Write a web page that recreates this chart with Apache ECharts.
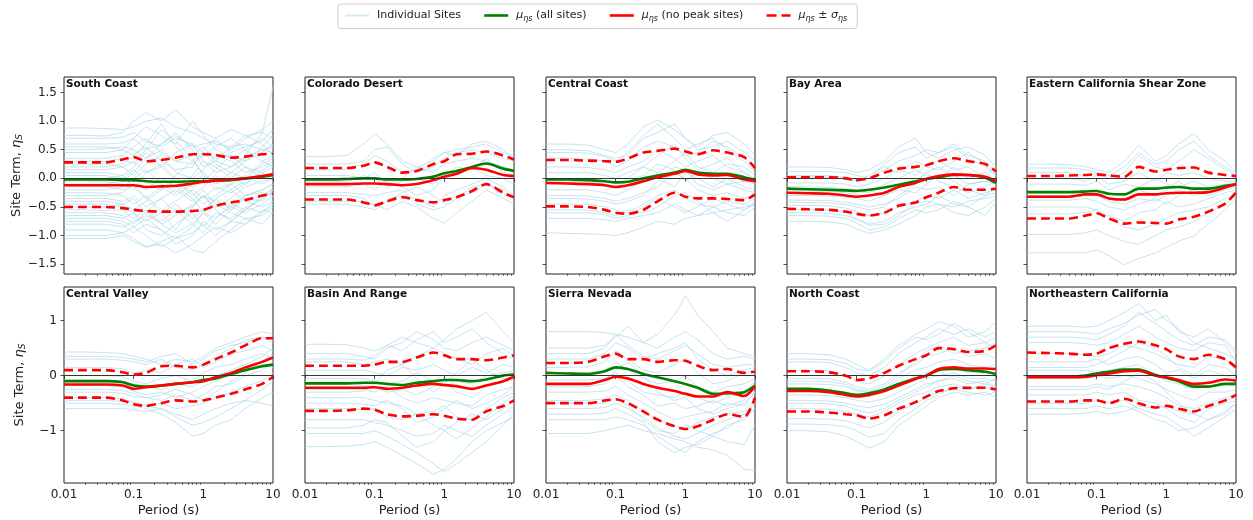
<!DOCTYPE html>
<html><head><meta charset="utf-8">
<script src="https://cdn.jsdelivr.net/npm/echarts@6/dist/echarts.min.js"></script>
<style>html,body{margin:0;padding:0;background:#fff}#c{width:1253px;height:520px}</style>
</head><body><div id="c"></div>
<script>
// ---------------- DATA ----------------
const PERIODS = [0.01, 0.02, 0.04, 0.07, 0.1, 0.15, 0.25, 0.4, 0.7, 1, 1.5, 2.5, 4, 7, 10];
const REGIONS = ['South Coast', 'Colorado Desert', 'Central Coast', 'Bay Area', 'Eastern California Shear Zone',
                 'Central Valley', 'Basin And Range', 'Sierra Nevada', 'North Coast', 'Northeastern California'];
const X_MAJOR_TICKS = [0.01, 0.1, 1, 10];
const X_MINOR_TICKS = [0.02,0.03,0.04,0.05,0.06,0.07,0.08,0.09,0.2,0.3,0.4,0.5,0.6,0.7,0.8,0.9,2,3,4,5,6,7,8,9];
const Y_TICKS_TOP = [-1.5, -1, -0.5, 0, 0.5, 1, 1.5];
const Y_TICKS_BOTTOM = [-1, 0, 1];

const SITES_SOUTH_COAST = [
 [0.88,0.88,0.87,0.85,0.9,1.0,1.05,0.9,0.8,0.7,0.6,0.55,0.6,0.5,0.45],
 [0.75,0.75,0.74,0.8,1.0,1.15,1.0,1.2,0.9,0.8,0.7,0.85,0.75,0.8,0.7],
 [0.6,0.6,0.6,0.62,0.7,0.5,0.6,0.75,0.55,0.6,0.65,0.5,0.7,0.85,1.0],
 [0.5,0.5,0.52,0.55,0.5,0.35,0.5,0.3,0.4,0.55,0.3,0.2,0.4,0.8,1.6],
 [0.35,0.35,0.35,0.4,0.55,0.7,0.45,0.3,0.25,0.4,0.55,0.7,0.5,0.3,0.2],
 [0.25,0.25,0.25,0.2,0.3,0.1,0.2,0.45,0.6,0.3,0.1,0.2,0.35,0.5,0.55],
 [0.15,0.15,0.15,0.2,0.05,0.25,0.4,0.1,0.0,0.15,0.4,0.3,0.1,0.2,0.3],
 [0.05,0.05,0.05,0.0,0.15,-0.05,-0.2,0.05,0.3,0.1,-0.1,0.0,0.2,0.1,-0.05],
 [-0.05,-0.05,-0.06,-0.1,-0.2,0.1,0.25,0.0,-0.15,-0.05,0.15,0.4,0.2,0.0,0.1],
 [-0.15,-0.15,-0.15,-0.2,-0.1,-0.35,-0.15,-0.3,-0.1,0.05,-0.2,-0.1,-0.3,-0.2,-0.1],
 [-0.25,-0.25,-0.26,-0.3,-0.45,-0.3,-0.55,-0.4,-0.2,-0.35,-0.15,-0.25,-0.1,0.1,0.2],
 [-0.35,-0.35,-0.35,-0.4,-0.3,-0.5,-0.35,-0.6,-0.5,-0.3,-0.4,-0.5,-0.3,-0.25,-0.3],
 [-0.45,-0.45,-0.45,-0.5,-0.6,-0.75,-0.6,-0.45,-0.7,-0.55,-0.35,-0.2,-0.4,-0.5,-0.4],
 [-0.55,-0.55,-0.56,-0.55,-0.7,-0.55,-0.8,-0.95,-0.8,-0.6,-0.7,-0.45,-0.55,-0.3,-0.2],
 [-0.65,-0.65,-0.65,-0.7,-0.6,-0.9,-1.0,-0.8,-0.6,-0.85,-0.6,-0.7,-0.5,-0.6,-0.45],
 [-0.75,-0.75,-0.75,-0.8,-0.95,-0.8,-0.9,-1.15,-1.0,-0.75,-0.9,-0.75,-0.8,-0.55,-0.6],
 [-0.9,-0.9,-0.9,-0.95,-1.05,-1.2,-1.1,-1.0,-1.25,-1.3,-1.1,-0.9,-0.7,-0.65,-0.5],
 [-1.05,-1.05,-1.05,-1.0,-1.1,-1.2,-1.15,-1.3,-1.15,-1.0,-0.85,-0.95,-0.8,-0.6,-0.4],
 [0.45,0.45,0.45,0.5,0.7,0.9,0.75,0.6,1.0,0.75,0.5,0.35,0.5,0.7,0.55],
 [-0.1,-0.1,-0.1,-0.05,0.1,0.35,0.6,0.8,0.5,0.2,0.3,0.55,0.75,0.6,0.4],
 [0.1,0.1,0.1,0.05,-0.15,-0.35,-0.6,-0.9,-0.5,-0.3,-0.5,-0.35,-0.15,-0.05,0.0],
 [-0.3,-0.3,-0.3,-0.25,-0.1,-0.2,0.0,-0.15,-0.35,-0.6,-0.8,-0.55,-0.35,-0.4,-0.2],
 [0.3,0.3,0.3,0.35,0.25,0.5,0.85,0.65,0.35,0.05,-0.1,0.1,0.0,0.3,0.4],
 [-0.6,-0.6,-0.6,-0.65,-0.8,-0.6,-0.35,-0.2,-0.4,-0.2,-0.45,-0.6,-0.7,-0.8,-0.6],
 [0.7,0.7,0.7,0.72,0.8,0.65,0.55,0.7,0.6,0.45,0.35,0.4,0.3,0.45,0.6],
 [0.2,0.2,0.2,0.25,0.4,0.55,0.3,0.15,0.2,0.5,0.7,0.45,0.55,0.65,0.85],
 [-0.2,-0.2,-0.2,-0.15,0.0,0.15,-0.1,-0.25,0.05,0.3,0.2,0.0,-0.1,0.15,0.25],
 [-0.4,-0.4,-0.4,-0.45,-0.55,-0.4,-0.2,-0.05,-0.25,-0.45,-0.3,-0.1,0.05,-0.1,0.0],
 [-0.5,-0.5,-0.5,-0.45,-0.35,-0.6,-0.8,-0.65,-0.45,-0.3,-0.55,-0.75,-0.55,-0.35,-0.25],
 [-0.8,-0.8,-0.8,-0.85,-0.75,-0.65,-0.75,-0.55,-0.8,-0.95,-0.7,-0.5,-0.6,-0.45,-0.3],
 [0.0,0.0,0.0,0.05,0.2,0.45,0.2,-0.05,-0.3,-0.15,0.05,-0.2,-0.05,0.25,0.35],
 [-0.7,-0.7,-0.7,-0.75,-0.85,-1.0,-1.2,-1.05,-0.85,-0.6,-0.35,-0.55,-0.3,-0.2,-0.1],
 [0.55,0.55,0.55,0.5,0.4,0.6,0.95,0.55,0.3,0.45,0.25,0.1,0.3,0.55,0.75],
 [-1.0,-1.0,-1.0,-0.95,-0.85,-0.7,-0.9,-1.05,-0.95,-0.8,-1.0,-0.75,-0.55,-0.35,-0.15]
];
const SITES_COLORADO_DESERT = [
 [0.38,0.38,0.4,0.6,0.78,0.6,0.3,0.2,0.3,0.45,0.5,0.55,0.6,0.45,0.4],
 [0.15,0.15,0.16,0.25,0.4,0.3,0.1,0.15,0.35,0.45,0.4,0.6,0.65,0.5,0.35],
 [0.05,0.05,0.05,0.0,0.1,-0.1,0.0,0.2,0.1,0.25,0.3,0.35,0.3,0.2,0.15],
 [-0.05,-0.05,-0.06,0.05,0.0,-0.15,-0.05,0.0,-0.1,0.05,0.2,0.15,0.35,0.1,0.05],
 [-0.15,-0.15,-0.15,-0.1,-0.2,-0.05,-0.15,-0.3,-0.2,0.05,0.1,0.2,0.05,0.0,-0.1],
 [-0.3,-0.3,-0.3,-0.35,-0.5,-0.4,-0.3,-0.35,-0.5,-0.3,-0.2,-0.1,0.0,-0.15,-0.3],
 [-0.4,-0.4,-0.4,-0.4,-0.45,-0.55,-0.4,-0.5,-0.7,-0.78,-0.6,-0.4,-0.2,-0.35,-0.45],
 [-0.45,-0.45,-0.45,-0.5,-0.55,-0.4,-0.25,-0.15,-0.3,-0.45,-0.3,-0.25,-0.1,-0.2,-0.35],
 [0.25,0.25,0.25,0.3,0.5,0.55,0.25,0.1,0.2,0.35,0.45,0.5,0.45,0.35,0.3],
 [-0.25,-0.25,-0.25,-0.28,-0.3,-0.25,-0.2,-0.45,-0.55,-0.5,-0.35,-0.15,-0.1,-0.25,-0.4]
];
const SITES_CENTRAL_COAST = [
 [0.6,0.6,0.58,0.5,0.45,0.6,0.9,1.02,0.85,0.7,0.55,0.75,0.8,0.6,0.4],
 [0.5,0.5,0.48,0.4,0.35,0.4,0.7,0.8,0.95,0.7,0.5,0.55,0.65,0.45,0.3],
 [0.35,0.35,0.34,0.3,0.2,0.3,0.55,0.65,0.55,0.4,0.45,0.65,0.55,0.35,0.2],
 [0.2,0.2,0.19,0.15,0.1,0.2,0.3,0.5,0.35,0.2,0.3,0.4,0.2,0.1,0.0],
 [0.1,0.1,0.1,0.05,0.0,0.1,0.2,0.1,0.3,0.45,0.2,0.1,0.25,0.2,0.05],
 [-0.05,-0.05,-0.06,-0.1,-0.15,-0.05,0.05,0.25,0.15,-0.05,0.1,0.0,-0.1,-0.05,-0.1],
 [-0.2,-0.2,-0.2,-0.25,-0.3,-0.2,-0.05,0.0,-0.15,0.1,0.0,-0.15,0.0,-0.15,-0.2],
 [-0.3,-0.3,-0.31,-0.35,-0.4,-0.35,-0.25,-0.15,0.1,0.0,-0.2,-0.3,-0.25,-0.35,-0.3],
 [-0.45,-0.45,-0.45,-0.5,-0.55,-0.6,-0.45,-0.3,-0.2,-0.35,-0.45,-0.5,-0.4,-0.45,-0.35],
 [-0.55,-0.55,-0.55,-0.6,-0.65,-0.55,-0.6,-0.5,-0.3,-0.25,-0.4,-0.6,-0.75,-0.55,-0.45],
 [-0.7,-0.7,-0.7,-0.72,-0.75,-0.7,-0.65,-0.6,-0.45,-0.55,-0.65,-0.5,-0.6,-0.65,-0.5],
 [-0.95,-0.96,-0.97,-0.98,-1.0,-0.95,-0.85,-0.75,-0.8,-0.7,-0.65,-0.6,-0.55,-0.5,-0.45],
 [0.45,0.45,0.44,0.38,0.3,0.45,0.75,0.95,0.7,0.5,0.6,0.7,0.5,0.3,0.1],
 [0.0,0.0,0.0,-0.05,-0.1,0.0,0.2,0.4,0.6,0.35,0.15,0.25,0.35,0.1,-0.05],
 [-0.35,-0.35,-0.36,-0.4,-0.45,-0.4,-0.3,-0.05,0.2,0.15,-0.1,-0.2,-0.1,-0.2,-0.25],
 [-0.6,-0.6,-0.6,-0.63,-0.7,-0.65,-0.5,-0.35,-0.5,-0.6,-0.5,-0.35,-0.45,-0.55,-0.4]
];
const SITES_BAY_AREA = [
 [0.2,0.2,0.19,0.15,0.1,0.15,0.3,0.55,0.7,0.45,0.35,0.5,0.55,0.4,0.2],
 [0.12,0.12,0.12,0.1,0.05,0.0,0.15,0.3,0.4,0.5,0.45,0.6,0.4,0.3,0.1],
 [0.02,0.02,0.02,0.0,-0.05,0.05,0.2,0.1,0.3,0.2,0.15,0.3,0.45,0.25,0.05],
 [-0.08,-0.08,-0.08,-0.1,-0.15,-0.1,0.0,0.15,0.05,0.25,0.3,0.15,0.2,0.0,-0.1],
 [-0.15,-0.15,-0.16,-0.18,-0.2,-0.25,-0.1,0.0,0.15,0.05,0.0,0.2,0.0,0.1,-0.05],
 [-0.22,-0.22,-0.23,-0.25,-0.28,-0.2,-0.3,-0.15,-0.05,0.1,0.2,0.05,-0.1,-0.05,0.0],
 [-0.3,-0.3,-0.31,-0.33,-0.35,-0.4,-0.3,-0.2,-0.25,-0.1,0.05,-0.05,-0.2,-0.3,-0.15],
 [-0.38,-0.38,-0.39,-0.42,-0.45,-0.5,-0.45,-0.35,-0.15,-0.2,-0.15,-0.3,-0.1,-0.05,-0.1],
 [-0.47,-0.47,-0.48,-0.52,-0.58,-0.65,-0.6,-0.5,-0.4,-0.3,-0.35,-0.2,-0.35,-0.25,-0.2],
 [-0.55,-0.55,-0.56,-0.6,-0.7,-0.8,-0.75,-0.6,-0.5,-0.45,-0.3,-0.45,-0.5,-0.3,-0.25],
 [-0.65,-0.65,-0.66,-0.7,-0.78,-0.9,-0.85,-0.7,-0.55,-0.6,-0.55,-0.4,-0.5,-0.65,-0.4],
 [-0.75,-0.75,-0.76,-0.8,-0.88,-0.96,-0.9,-0.8,-0.65,-0.5,-0.45,-0.5,-0.4,-0.35,-0.3],
 [0.05,0.05,0.05,0.02,-0.02,0.0,0.25,0.45,0.55,0.35,0.45,0.55,0.35,0.2,0.05],
 [-0.42,-0.42,-0.43,-0.46,-0.5,-0.55,-0.5,-0.3,-0.1,0.1,-0.05,-0.15,-0.25,-0.15,-0.05],
 [-0.6,-0.6,-0.61,-0.65,-0.72,-0.82,-0.8,-0.65,-0.45,-0.4,-0.45,-0.6,-0.65,-0.5,-0.35]
];
const SITES_ECSZ = [
 [0.25,0.25,0.24,0.2,0.15,0.1,0.3,0.58,0.3,0.4,0.6,0.78,0.5,0.3,0.1],
 [0.1,0.1,0.1,0.05,0.08,0.0,0.1,0.4,0.2,0.15,0.3,0.5,0.35,0.15,0.05],
 [0.0,0.0,0.0,-0.05,0.05,-0.1,-0.05,0.1,-0.05,0.1,0.05,0.1,0.0,-0.05,-0.05],
 [-0.1,-0.1,-0.1,-0.12,-0.05,-0.2,-0.1,-0.15,0.0,-0.1,-0.15,-0.05,-0.15,-0.1,-0.1],
 [-0.25,-0.25,-0.25,-0.22,-0.2,-0.35,-0.4,-0.2,-0.3,-0.2,-0.05,-0.25,-0.2,-0.15,-0.12],
 [-0.38,-0.38,-0.38,-0.35,-0.4,-0.5,-0.55,-0.45,-0.35,-0.45,-0.3,-0.2,-0.3,-0.2,-0.15],
 [-0.5,-0.5,-0.5,-0.5,-0.55,-0.65,-0.75,-0.6,-0.55,-0.4,-0.5,-0.45,-0.35,-0.25,-0.2],
 [-0.62,-0.62,-0.62,-0.6,-0.55,-0.7,-0.85,-0.9,-0.8,-0.7,-0.6,-0.55,-0.5,-0.35,-0.25],
 [-0.98,-0.98,-0.98,-0.95,-0.9,-1.0,-1.1,-1.15,-1.0,-0.9,-0.85,-0.75,-0.6,-0.45,-0.3],
 [-1.3,-1.3,-1.3,-1.3,-1.25,-1.35,-1.51,-1.4,-1.3,-1.2,-1.1,-1.0,-0.8,-0.55,-0.35],
 [0.18,0.18,0.18,0.15,0.1,0.05,0.2,0.45,0.25,0.3,0.5,0.65,0.4,0.2,0.08],
 [-0.3,-0.3,-0.3,-0.3,-0.3,-0.4,-0.45,-0.35,-0.4,-0.3,-0.2,-0.3,-0.25,-0.15,-0.1]
];
const SITES_CENTRAL_VALLEY = [
 [0.43,0.43,0.42,0.4,0.35,0.3,0.2,0.3,0.25,0.35,0.5,0.6,0.7,0.8,0.75],
 [0.3,0.3,0.3,0.28,0.25,0.2,0.3,0.15,0.1,0.2,0.35,0.5,0.65,0.7,0.6],
 [0.15,0.15,0.15,0.12,0.05,0.1,0.05,0.2,0.3,0.15,0.25,0.4,0.45,0.55,0.45],
 [0.0,0.0,0.0,-0.02,-0.1,-0.15,-0.05,0.0,-0.1,0.05,0.15,0.2,0.3,0.4,0.3],
 [-0.08,-0.08,-0.08,-0.1,-0.15,-0.2,-0.25,-0.15,-0.2,-0.1,0.0,0.1,0.2,0.35,0.5],
 [-0.18,-0.18,-0.18,-0.2,-0.28,-0.35,-0.3,-0.4,-0.3,-0.2,-0.1,0.0,0.1,0.2,0.15],
 [-0.3,-0.3,-0.3,-0.32,-0.38,-0.4,-0.45,-0.35,-0.45,-0.35,-0.2,-0.15,0.0,0.1,0.25],
 [-0.4,-0.4,-0.4,-0.42,-0.48,-0.55,-0.5,-0.6,-0.55,-0.5,-0.4,-0.3,-0.2,-0.1,0.05],
 [-0.5,-0.5,-0.5,-0.52,-0.55,-0.6,-0.7,-0.85,-1.1,-1.05,-0.9,-0.8,-0.6,-0.4,-0.3],
 [-0.6,-0.6,-0.6,-0.6,-0.62,-0.65,-0.6,-0.7,-0.8,-0.7,-0.6,-0.5,-0.45,-0.5,-0.55],
 [0.35,0.35,0.35,0.33,0.3,0.25,0.35,0.4,0.2,0.3,0.45,0.55,0.6,0.7,0.65],
 [-0.25,-0.25,-0.25,-0.27,-0.32,-0.4,-0.35,-0.25,-0.35,-0.45,-0.3,-0.1,0.05,0.25,0.4],
 [-0.45,-0.45,-0.45,-0.47,-0.5,-0.55,-0.6,-0.75,-0.9,-0.85,-0.75,-0.6,-0.45,-0.25,-0.1]
];
const SITES_BASIN_RANGE = [
 [0.57,0.57,0.56,0.5,0.45,0.55,0.7,0.6,0.5,0.65,0.85,1.0,1.15,0.8,0.6],
 [0.4,0.4,0.4,0.35,0.3,0.5,0.6,0.8,0.65,0.5,0.45,0.6,0.7,0.55,0.45],
 [0.25,0.25,0.25,0.2,0.25,0.3,0.2,0.35,0.5,0.4,0.3,0.2,0.4,0.5,0.35],
 [0.1,0.1,0.1,0.1,0.05,0.0,0.15,0.1,0.2,0.1,0.0,0.15,0.05,0.2,0.15],
 [-0.05,-0.05,-0.05,-0.05,-0.1,-0.15,-0.1,0.05,-0.1,-0.2,-0.1,-0.15,0.0,0.05,0.1],
 [-0.15,-0.15,-0.15,-0.18,-0.2,-0.3,-0.25,-0.35,-0.2,-0.1,-0.3,-0.4,-0.2,-0.1,0.0],
 [-0.25,-0.25,-0.25,-0.25,-0.3,-0.2,-0.4,-0.5,-0.4,-0.45,-0.5,-0.55,-0.35,-0.25,-0.2],
 [-0.4,-0.4,-0.4,-0.4,-0.45,-0.5,-0.55,-0.7,-0.65,-0.55,-0.75,-0.8,-0.6,-0.4,-0.3],
 [-0.6,-0.6,-0.6,-0.62,-0.6,-0.75,-0.8,-0.7,-0.9,-1.0,-0.85,-0.7,-0.8,-0.6,-0.45],
 [-0.8,-0.8,-0.8,-0.8,-0.85,-0.9,-1.0,-1.1,-1.05,-0.9,-1.0,-1.1,-0.9,-0.7,-0.55],
 [-1.05,-1.05,-1.05,-1.05,-1.0,-1.1,-1.25,-1.4,-1.6,-1.75,-1.6,-1.4,-1.2,-0.9,-0.7],
 [-1.29,-1.29,-1.28,-1.25,-1.2,-1.3,-1.45,-1.6,-1.79,-1.7,-1.5,-1.2,-1.0,-0.85,-0.75],
 [0.3,0.3,0.3,0.28,0.35,0.55,0.45,0.65,0.8,0.6,0.7,0.85,0.6,0.4,0.3],
 [-0.3,-0.3,-0.3,-0.28,-0.15,0.1,0.2,-0.05,-0.3,-0.15,0.05,0.3,0.1,-0.05,-0.1],
 [-0.5,-0.5,-0.5,-0.52,-0.55,-0.45,-0.6,-0.85,-0.75,-0.6,-0.45,-0.6,-0.5,-0.35,-0.2],
 [-0.95,-0.95,-0.95,-0.9,-0.8,-0.85,-1.1,-1.3,-1.2,-1.0,-1.15,-0.95,-0.75,-0.5,-0.35]
];
const SITES_SIERRA_NEVADA = [
 [0.8,0.8,0.8,0.78,0.75,0.7,0.6,0.75,1.1,1.45,1.1,0.8,0.5,0.4,0.35],
 [0.5,0.5,0.5,0.55,0.7,0.9,0.6,0.5,0.7,0.8,0.65,0.4,0.3,0.35,0.3],
 [0.3,0.3,0.3,0.4,0.6,0.5,0.3,0.4,0.5,0.6,0.3,0.1,0.0,0.1,0.15],
 [0.15,0.15,0.16,0.25,0.45,0.3,0.1,0.05,0.2,0.3,0.05,-0.15,-0.1,0.05,0.1],
 [0.05,0.05,0.05,0.1,0.25,0.1,-0.05,-0.15,-0.1,0.0,-0.2,-0.3,-0.2,-0.15,-0.05],
 [-0.08,-0.08,-0.08,-0.05,0.05,-0.1,-0.3,-0.35,-0.4,-0.3,-0.4,-0.5,-0.4,-0.3,-0.1],
 [-0.2,-0.2,-0.2,-0.15,0.0,-0.2,-0.35,-0.55,-0.5,-0.6,-0.55,-0.45,-0.55,-0.45,-0.2],
 [-0.3,-0.3,-0.3,-0.28,-0.2,-0.35,-0.5,-0.65,-0.8,-0.75,-0.7,-0.65,-0.5,-0.55,-0.3],
 [-0.45,-0.45,-0.45,-0.42,-0.35,-0.45,-0.65,-0.8,-0.9,-1.0,-0.85,-0.75,-0.7,-0.65,-0.45],
 [-0.6,-0.6,-0.6,-0.58,-0.5,-0.6,-0.75,-0.95,-1.1,-1.15,-1.05,-0.9,-0.8,-0.7,-0.5],
 [-0.8,-0.8,-0.8,-0.8,-0.75,-0.8,-0.9,-1.1,-1.3,-1.4,-1.2,-1.05,-0.95,-0.75,-0.6],
 [-1.05,-1.05,-1.05,-1.0,-0.95,-0.9,-1.0,-1.05,-1.15,-1.2,-1.3,-1.35,-1.45,-1.7,-1.72],
 [0.4,0.4,0.4,0.5,0.75,0.55,0.35,0.3,0.45,0.55,0.4,0.2,0.15,0.2,0.2],
 [-0.15,-0.15,-0.15,-0.1,0.1,0.25,0.0,-0.3,-0.45,-0.4,-0.6,-0.7,-0.6,-0.5,-0.3],
 [-0.5,-0.5,-0.5,-0.5,-0.4,-0.55,-0.8,-1.0,-1.05,-0.9,-1.0,-1.1,-0.9,-0.8,-0.6],
 [-0.7,-0.7,-0.7,-0.68,-0.6,-0.7,-0.85,-1.2,-1.4,-1.3,-1.25,-1.1,-1.2,-1.25,-0.9]
];
const SITES_NORTH_COAST = [
 [0.4,0.4,0.38,0.3,0.2,0.1,0.3,0.55,0.75,0.85,0.98,0.9,0.7,0.8,0.98],
 [0.25,0.25,0.24,0.15,0.05,0.0,0.15,0.4,0.6,0.7,0.85,0.75,0.85,0.7,0.8],
 [0.1,0.1,0.09,0.0,-0.1,-0.15,0.0,0.2,0.4,0.5,0.6,0.7,0.55,0.6,0.5],
 [-0.05,-0.05,-0.06,-0.12,-0.2,-0.25,-0.15,0.05,0.2,0.35,0.4,0.5,0.35,0.4,0.3],
 [-0.15,-0.15,-0.16,-0.2,-0.28,-0.3,-0.25,-0.05,0.1,0.15,0.25,0.3,0.2,0.15,0.2],
 [-0.25,-0.25,-0.26,-0.3,-0.35,-0.38,-0.3,-0.2,0.0,0.05,0.1,0.15,0.05,0.1,0.0],
 [-0.35,-0.35,-0.36,-0.4,-0.45,-0.48,-0.42,-0.3,-0.15,-0.05,0.0,0.05,-0.05,-0.05,-0.1],
 [-0.45,-0.45,-0.46,-0.5,-0.55,-0.58,-0.52,-0.4,-0.25,-0.15,-0.1,-0.05,-0.15,-0.1,-0.2],
 [-0.6,-0.6,-0.61,-0.65,-0.7,-0.75,-0.65,-0.5,-0.35,-0.3,-0.2,-0.15,-0.25,-0.2,-0.3],
 [-0.78,-0.78,-0.79,-0.82,-0.88,-0.95,-0.85,-0.65,-0.5,-0.4,-0.3,-0.25,-0.3,-0.35,-0.3],
 [-1.0,-1.0,-1.02,-1.1,-1.2,-1.32,-1.2,-0.9,-0.7,-0.55,-0.4,-0.3,-0.35,-0.3,-0.4],
 [0.3,0.3,0.29,0.22,0.12,0.08,0.25,0.5,0.7,0.65,0.75,0.95,0.8,0.6,0.7],
 [-0.1,-0.1,-0.11,-0.16,-0.25,-0.28,-0.2,0.0,0.25,0.45,0.55,0.4,0.45,0.5,0.6],
 [-0.5,-0.5,-0.51,-0.55,-0.62,-0.68,-0.6,-0.45,-0.3,-0.2,-0.1,0.0,-0.1,-0.15,-0.05],
 [-0.88,-0.88,-0.89,-0.93,-1.0,-1.12,-1.05,-0.8,-0.6,-0.45,-0.35,-0.2,-0.25,-0.15,-0.2]
];
const SITES_NORTHEASTERN = [
 [0.9,0.9,0.9,0.88,0.9,1.0,1.15,1.31,1.0,1.1,0.8,0.7,0.85,0.6,0.4],
 [0.8,0.8,0.8,0.78,0.75,0.85,0.95,1.1,1.2,1.0,0.85,0.6,0.5,0.4,0.3],
 [0.6,0.6,0.6,0.58,0.55,0.6,0.75,0.9,0.7,0.6,0.5,0.45,0.6,0.55,0.25],
 [0.4,0.4,0.4,0.38,0.35,0.4,0.55,0.5,0.4,0.3,0.2,0.15,0.35,0.3,0.1],
 [0.25,0.25,0.25,0.25,0.3,0.2,0.3,0.35,0.2,0.05,0.1,-0.05,0.1,0.0,-0.05],
 [0.1,0.1,0.1,0.1,0.05,0.1,0.15,0.2,0.0,-0.1,-0.15,-0.25,-0.1,-0.15,-0.2],
 [-0.05,-0.05,-0.05,-0.05,0.0,-0.05,0.0,-0.05,-0.15,-0.25,-0.35,-0.45,-0.3,-0.3,-0.25],
 [-0.2,-0.2,-0.2,-0.2,-0.15,-0.2,-0.15,-0.2,-0.3,-0.4,-0.55,-0.6,-0.5,-0.4,-0.35],
 [-0.35,-0.35,-0.35,-0.35,-0.3,-0.35,-0.3,-0.45,-0.5,-0.6,-0.75,-0.85,-0.6,-0.5,-0.45],
 [-0.5,-0.5,-0.5,-0.5,-0.45,-0.5,-0.45,-0.6,-0.7,-0.75,-0.9,-1.1,-0.95,-0.75,-0.6],
 [-0.7,-0.7,-0.7,-0.68,-0.65,-0.7,-0.65,-0.55,-0.6,-0.55,-0.65,-0.7,-0.8,-0.7,-0.5],
 [0.7,0.7,0.7,0.68,0.65,0.75,0.9,1.15,0.95,0.8,0.65,0.55,0.7,0.65,0.45],
 [0.15,0.15,0.15,0.15,0.2,0.3,0.45,0.6,0.5,0.35,0.15,0.0,0.2,0.15,0.0],
 [-0.25,-0.25,-0.25,-0.25,-0.2,-0.25,-0.1,0.05,-0.1,-0.3,-0.5,-0.7,-0.55,-0.45,-0.4],
 [-0.6,-0.6,-0.6,-0.6,-0.55,-0.6,-0.55,-0.65,-0.8,-0.85,-1.0,-0.95,-0.8,-0.65,-0.5]
];

// mean (all sites), one row per region
const MU_ALL = [
 [-0.02,-0.02,-0.02,-0.03,-0.03,-0.05,-0.06,-0.06,-0.05,-0.05,-0.04,-0.03,0.0,0.03,0.06],
 [-0.02,-0.02,-0.01,0.0,0.0,-0.02,-0.02,-0.01,0.03,0.09,0.13,0.2,0.26,0.17,0.13],
 [-0.02,-0.02,-0.03,-0.05,-0.07,-0.06,0.0,0.05,0.1,0.15,0.1,0.08,0.08,0.02,-0.03],
 [-0.18,-0.19,-0.2,-0.21,-0.22,-0.2,-0.16,-0.11,-0.05,-0.01,0.02,0.06,0.06,0.01,-0.08],
 [-0.24,-0.24,-0.24,-0.23,-0.22,-0.27,-0.28,-0.18,-0.18,-0.16,-0.15,-0.18,-0.18,-0.13,-0.11],
 [-0.1,-0.1,-0.1,-0.12,-0.18,-0.2,-0.18,-0.15,-0.12,-0.08,-0.05,0.03,0.1,0.17,0.2],
 [-0.14,-0.14,-0.14,-0.13,-0.13,-0.15,-0.17,-0.13,-0.1,-0.08,-0.08,-0.1,-0.07,0.0,0.02],
 [0.05,0.04,0.03,0.08,0.15,0.12,0.03,-0.03,-0.1,-0.15,-0.22,-0.33,-0.32,-0.3,-0.18],
 [-0.24,-0.24,-0.27,-0.32,-0.35,-0.32,-0.25,-0.15,-0.05,0.0,0.1,0.12,0.1,0.07,0.03],
 [-0.02,-0.02,-0.02,0.0,0.04,0.07,0.11,0.11,0.01,-0.04,-0.1,-0.2,-0.2,-0.15,-0.15]
];
// mean (no peak sites)
const MU_NOPEAK = [
 [-0.12,-0.12,-0.12,-0.12,-0.12,-0.15,-0.14,-0.13,-0.09,-0.06,-0.04,-0.02,0.0,0.04,0.07],
 [-0.1,-0.1,-0.1,-0.09,-0.09,-0.1,-0.12,-0.1,-0.03,0.03,0.08,0.18,0.15,0.06,0.04],
 [-0.08,-0.09,-0.1,-0.12,-0.15,-0.12,-0.05,0.02,0.08,0.13,0.07,0.05,0.06,-0.02,-0.05],
 [-0.25,-0.26,-0.27,-0.3,-0.32,-0.3,-0.25,-0.15,-0.08,-0.01,0.04,0.07,0.06,0.03,-0.05],
 [-0.32,-0.32,-0.32,-0.28,-0.28,-0.35,-0.37,-0.28,-0.28,-0.26,-0.25,-0.25,-0.24,-0.16,-0.1],
 [-0.16,-0.16,-0.16,-0.18,-0.24,-0.21,-0.18,-0.15,-0.12,-0.1,-0.03,0.05,0.15,0.25,0.33],
 [-0.22,-0.22,-0.22,-0.22,-0.21,-0.24,-0.22,-0.18,-0.15,-0.17,-0.19,-0.24,-0.18,-0.1,-0.02],
 [-0.15,-0.15,-0.15,-0.08,-0.02,-0.05,-0.15,-0.22,-0.28,-0.33,-0.38,-0.38,-0.3,-0.37,-0.2],
 [-0.28,-0.28,-0.3,-0.35,-0.38,-0.35,-0.28,-0.18,-0.06,0.0,0.12,0.15,0.13,0.13,0.12],
 [-0.03,-0.03,-0.03,-0.02,0.01,0.04,0.08,0.09,0.0,-0.03,-0.08,-0.15,-0.13,-0.07,-0.09]
];
// mean + sigma
const MU_PLUS_SIGMA = [
 [0.28,0.28,0.28,0.33,0.37,0.3,0.32,0.36,0.42,0.42,0.41,0.36,0.38,0.42,0.43],
 [0.18,0.18,0.18,0.22,0.28,0.2,0.1,0.13,0.25,0.3,0.42,0.43,0.47,0.4,0.33],
 [0.32,0.32,0.31,0.3,0.29,0.35,0.45,0.48,0.52,0.47,0.42,0.49,0.45,0.37,0.18],
 [0.02,0.02,0.02,0.0,-0.03,0.0,0.1,0.17,0.2,0.23,0.3,0.35,0.3,0.25,0.12],
 [0.04,0.04,0.05,0.06,0.07,0.05,0.03,0.2,0.12,0.15,0.18,0.19,0.1,0.06,0.04],
 [0.1,0.1,0.1,0.06,0.02,0.05,0.17,0.18,0.15,0.2,0.3,0.42,0.55,0.68,0.68],
 [0.18,0.18,0.18,0.18,0.2,0.25,0.25,0.33,0.42,0.37,0.3,0.3,0.28,0.33,0.37],
 [0.23,0.23,0.25,0.35,0.4,0.3,0.3,0.25,0.28,0.27,0.18,0.1,0.12,0.05,0.07],
 [0.08,0.08,0.06,0.0,-0.08,-0.05,0.05,0.18,0.3,0.37,0.5,0.48,0.43,0.45,0.55],
 [0.42,0.41,0.4,0.38,0.4,0.5,0.58,0.62,0.55,0.48,0.35,0.3,0.38,0.3,0.15]
];
// mean - sigma
const MU_MINUS_SIGMA = [
 [-0.5,-0.5,-0.5,-0.52,-0.55,-0.57,-0.58,-0.58,-0.57,-0.55,-0.48,-0.42,-0.38,-0.3,-0.27],
 [-0.37,-0.37,-0.37,-0.42,-0.47,-0.4,-0.33,-0.38,-0.42,-0.38,-0.33,-0.22,-0.1,-0.25,-0.33],
 [-0.49,-0.49,-0.5,-0.55,-0.6,-0.62,-0.55,-0.4,-0.25,-0.32,-0.35,-0.35,-0.36,-0.38,-0.28],
 [-0.53,-0.54,-0.55,-0.58,-0.62,-0.65,-0.6,-0.48,-0.42,-0.33,-0.25,-0.15,-0.2,-0.2,-0.18],
 [-0.7,-0.7,-0.7,-0.65,-0.61,-0.7,-0.79,-0.77,-0.78,-0.79,-0.72,-0.67,-0.58,-0.44,-0.25],
 [-0.4,-0.4,-0.4,-0.45,-0.52,-0.55,-0.5,-0.45,-0.47,-0.45,-0.4,-0.33,-0.25,-0.15,-0.02],
 [-0.64,-0.64,-0.63,-0.6,-0.62,-0.7,-0.74,-0.73,-0.7,-0.73,-0.78,-0.8,-0.65,-0.55,-0.45],
 [-0.5,-0.5,-0.5,-0.45,-0.43,-0.5,-0.65,-0.8,-0.92,-0.97,-0.92,-0.8,-0.7,-0.75,-0.4],
 [-0.65,-0.65,-0.67,-0.7,-0.72,-0.78,-0.72,-0.6,-0.48,-0.38,-0.28,-0.23,-0.22,-0.22,-0.25],
 [-0.47,-0.47,-0.47,-0.45,-0.45,-0.5,-0.42,-0.5,-0.58,-0.55,-0.6,-0.65,-0.55,-0.45,-0.35]
];
const SITES = [SITES_SOUTH_COAST, SITES_COLORADO_DESERT, SITES_CENTRAL_COAST, SITES_BAY_AREA, SITES_ECSZ,
               SITES_CENTRAL_VALLEY, SITES_BASIN_RANGE, SITES_SIERRA_NEVADA, SITES_NORTH_COAST, SITES_NORTHEASTERN];

// ---------------- LAYOUT / STYLE ----------------
const FONT = 'DejaVu Sans';
const GRID_LEFTS = [64, 305, 546, 787, 1027];
const GRID_TOPS = [77, 287];
const GRID_W = 209;
const GRID_HS = [197, 196];
const Y_EXTENTS = [[-1.67, 1.77], [-1.95, 1.61]];
const TXT = '#222';
const SITE_COLOR = 'rgba(173,216,230,0.7)';
const DASH = [9, 5];

const fmtY = (row) => (v) => {
  const s = row === 0 ? Math.abs(v).toFixed(1) : String(Math.abs(v));
  return (v < 0 ? '\u2212' : '') + s;
};
const fmtX = (v) => (v >= 1 ? String(Math.round(v)) : String(+v.toPrecision(1)));

const grids = [], xAxes = [], yAxes = [], titles = [], series = [];
const pairs = (arr) => PERIODS.map((p, k) => [p, arr[k]]);

for (let i = 0; i < 10; i++) {
  const row = Math.floor(i / 5), col = i % 5;
  grids.push({ left: GRID_LEFTS[col], top: GRID_TOPS[row], width: GRID_W, height: GRID_HS[row],
               show: true, borderColor: '#222', borderWidth: 1, backgroundColor: 'transparent' });
  const baseX = { type: 'log', logBase: 10, gridIndex: i, min: 0.01, max: 10, position: 'bottom',
                  axisLine: { show: false }, splitLine: { show: false }, minorTick: { show: false } };
  xAxes.push(Object.assign({}, baseX, {
    axisTick: { show: true, length: 3.5, lineStyle: { color: TXT, width: 0.8 }, customValues: X_MAJOR_TICKS },
    axisLabel: { show: row === 1, customValues: X_MAJOR_TICKS, formatter: fmtX, fontSize: 12, color: TXT,
                 fontFamily: FONT, margin: 6 },
    name: row === 1 ? 'Period (s)' : '', nameLocation: 'middle', nameGap: 21,
    nameTextStyle: { fontSize: 13, color: TXT, fontFamily: FONT }
  }));
  xAxes.push(Object.assign({}, baseX, {
    axisTick: { show: true, length: 2, lineStyle: { color: TXT, width: 0.6 }, customValues: X_MINOR_TICKS },
    axisLabel: { show: false, customValues: X_MINOR_TICKS }
  }));
  const yt = row === 0 ? Y_TICKS_TOP : Y_TICKS_BOTTOM;
  yAxes.push({ type: 'value', gridIndex: i, min: Y_EXTENTS[row][0], max: Y_EXTENTS[row][1],
    axisLine: { show: false }, splitLine: { show: false },
    axisTick: { show: true, length: 3.5, lineStyle: { color: TXT, width: 0.8 }, customValues: yt },
    axisLabel: { show: col === 0, customValues: yt, formatter: fmtY(row), fontSize: 12, color: TXT,
                 fontFamily: FONT, margin: 7 },
    name: col === 0 ? '{a|Site Term, }{b|\u03b7}{c|S}' : '', nameLocation: 'middle', nameGap: 37,
    nameRotate: 90,
    nameTextStyle: { color: TXT, fontFamily: FONT, fontSize: 13,
      rich: { a: { fontSize: 13, fontFamily: FONT, color: TXT },
              b: { fontSize: 13, fontFamily: FONT, color: TXT, fontStyle: 'italic' },
              c: { fontSize: 9, fontFamily: FONT, color: TXT, fontStyle: 'italic', padding: [6, 0, 0, 0] } } }
  });
  titles.push({ text: REGIONS[i], left: GRID_LEFTS[col] + 2, top: GRID_TOPS[row] + 2, padding: 0,
                textStyle: { fontSize: 10.5, fontWeight: 'bold', color: '#111', fontFamily: FONT } });

  const sites = SITES[i];
  sites.forEach((arr, k) => {
    const s = { type: 'line', name: 'Individual Sites', xAxisIndex: 2 * i, yAxisIndex: i, data: pairs(arr),
      symbol: 'none', silent: true, z: 1,
      lineStyle: { color: SITE_COLOR, width: 1 }, itemStyle: { color: '#add8e6' } };
    if (k === sites.length - 1) {
      s.markLine = { silent: true, symbol: 'none', label: { show: false },
        lineStyle: { color: '#333', type: 'solid', width: 1 }, data: [{ yAxis: 0 }] };
    }
    series.push(s);
  });
  series.push({ type: 'line', name: 'mu_all', xAxisIndex: 2 * i, yAxisIndex: i, data: pairs(MU_ALL[i]),
    symbol: 'none', silent: true, z: 3, smooth: 0.25, lineStyle: { color: '#008000', width: 2.6 },
    itemStyle: { color: '#008000' } });
  series.push({ type: 'line', name: 'mu_np', xAxisIndex: 2 * i, yAxisIndex: i, data: pairs(MU_NOPEAK[i]),
    symbol: 'none', silent: true, z: 4, smooth: 0.25, lineStyle: { color: '#ff0000', width: 2.6 },
    itemStyle: { color: '#ff0000' } });
  [MU_PLUS_SIGMA[i], MU_MINUS_SIGMA[i]].forEach(arr => {
    series.push({ type: 'line', name: 'mu_sig', xAxisIndex: 2 * i, yAxisIndex: i, data: pairs(arr),
      symbol: 'none', silent: true, z: 5, smooth: 0.25,
      lineStyle: { color: '#ff0000', width: 2.6, type: DASH }, itemStyle: { color: '#ff0000' } });
  });
}

const RICH = {
  m: { fontSize: 11, fontFamily: FONT, color: TXT, fontStyle: 'italic' },
  s: { fontSize: 8, fontFamily: FONT, color: TXT, fontStyle: 'italic', padding: [6, 0, 0, 0] },
  t: { fontSize: 11, fontFamily: FONT, color: TXT }
};
const LEGEND_LABELS = {
  'Individual Sites': '{t|Individual Sites}',
  'mu_all': '{m|\u03bc}{s|\u03b7s}{t| (all sites)}',
  'mu_np': '{m|\u03bc}{s|\u03b7s}{t| (no peak sites)}',
  'mu_sig': '{m|\u03bc}{s|\u03b7s}{t| \u00b1 }{m|\u03c3}{s|\u03b7s}'
};
const HIDDEN_SYMBOL = { color: 'rgba(0,0,0,0)', borderWidth: 0, opacity: 0 };

const chart = echarts.init(document.getElementById('c'));
chart.setOption({
  animation: false,
  backgroundColor: '#fff',
  title: titles,
  legend: {
    data: [
      { name: 'Individual Sites', itemStyle: HIDDEN_SYMBOL, lineStyle: { color: '#d4ebf2', width: 2, type: 'solid' } },
      { name: 'mu_all', itemStyle: HIDDEN_SYMBOL, lineStyle: { color: '#008000', width: 2.6, type: 'solid' } },
      { name: 'mu_np', itemStyle: HIDDEN_SYMBOL, lineStyle: { color: '#ff0000', width: 2.6, type: 'solid' } },
      { name: 'mu_sig', itemStyle: HIDDEN_SYMBOL, lineStyle: { color: '#ff0000', width: 2.6, type: [10, 5] } }
    ],
    left: 338, top: 4, itemWidth: 24, itemHeight: 12, itemGap: 22,
    padding: [6, 10, 6, 6],
    borderColor: '#ccc', borderWidth: 1, borderRadius: 3,
    itemStyle: HIDDEN_SYMBOL,
    formatter: (n) => LEGEND_LABELS[n],
    textStyle: { fontSize: 11, fontFamily: FONT, color: TXT, padding: [0, 0, 0, 3], rich: RICH },
    selectedMode: false
  },
  grid: grids,
  xAxis: xAxes,
  yAxis: yAxes,
  series: series
});
</script>
</body></html>
